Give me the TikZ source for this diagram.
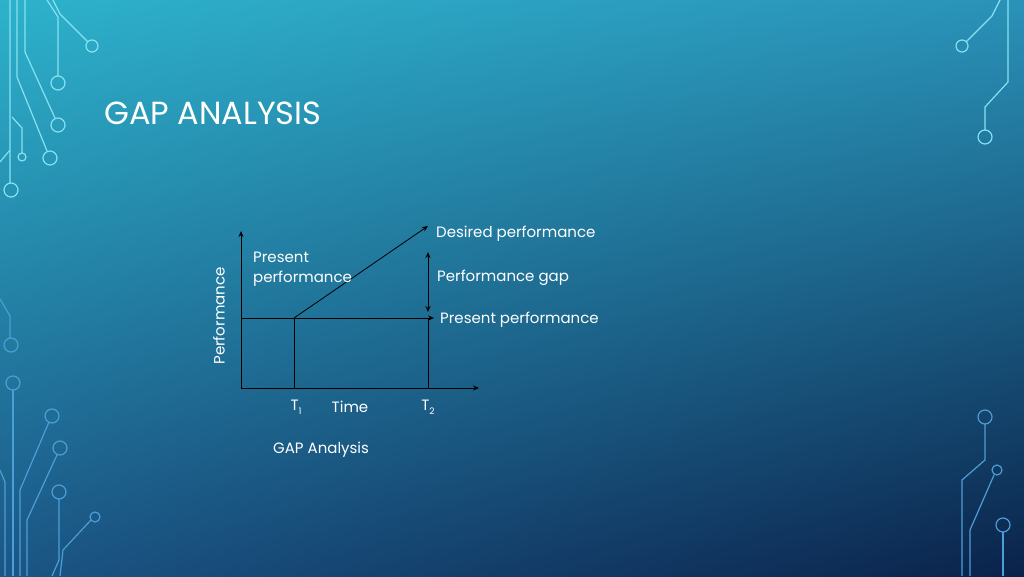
\documentclass[tikz,border=0pt]{standalone}
\usepackage{fontspec}
\setmainfont{Poppins}
\usetikzlibrary{shadings,arrows.meta}
\begin{document}
\begin{tikzpicture}[x=1pt,y=-1pt,
  ckt/.style={draw=cktA,line width=1.2pt},
  cktb/.style={draw=cktB,line width=1.2pt},
  ax/.style={draw=black,line width=0.8pt,-{Stealth[length=6pt,width=5pt]}},
  ln/.style={draw=black,line width=0.8pt},
  lbl/.style={text=white,font=\fontsize{15}{20}\selectfont,inner sep=0pt}]
\definecolor{cktA}{HTML}{86E2F2}
\definecolor{cktB}{HTML}{4C9ED6}
\definecolor{cTL}{HTML}{2DB2CB}
\definecolor{cTR}{HTML}{2A92B8}
\definecolor{cBL}{HTML}{1B5585}
\definecolor{cBR}{HTML}{0A224A}
\useasboundingbox (0,0) rectangle (1024,576);
\shade[upper left=cTL,upper right=cTR,lower left=cBL,lower right=cBR] (0,0) rectangle (1024,576);
% left top circuit
\draw[ckt] (10,0)--(10,183) (11,190) circle (7);
\draw[ckt] (17,0)--(17,77)--(47,151); \draw[ckt] (50,158) circle (7);
\draw[ckt] (25,0)--(25,52)--(55,118); \draw[ckt] (58,125) circle (7);
\draw[ckt] (47,0)--(58,17)--(58,76); \draw[ckt] (58,83) circle (7);
\draw[ckt] (53,0)--(60,14)--(88,42); \draw[ckt] (92,46) circle (6);
\draw[ckt] (12,117)--(22,128)--(22,153); \draw[ckt] (22,157) circle (4);
\draw[ckt] (0,162)--(10,150);
% left bottom circuit
\draw[cktb] (0,299)--(10,316)--(10,338); \draw[cktb] (11,345) circle (7);
\draw[cktb] (13,383) circle (7); \draw[cktb] (13,390)--(13,576);
\draw[cktb] (52,416) circle (7); \draw[cktb] (49,422)--(20,490)--(20,576);
\draw[cktb] (60,448) circle (7); \draw[cktb] (57,455)--(27,520)--(27,576);
\draw[cktb] (59,492) circle (7); \draw[cktb] (59,499)--(59,560)--(52,576);
\draw[cktb] (95,517) circle (5); \draw[cktb] (91,520)--(63,550)--(60,576);
\draw[cktb] (0,470)--(5,482)--(5,576);
% right top circuit
\draw[ckt] (1000,0)--(992,16)--(966,42); \draw[ckt] (962,46) circle (6);
\draw[ckt] (1008,0)--(1008,82)--(985,107)--(985,130); \draw[ckt] (985,137) circle (7);
% right bottom circuit
\draw[cktb] (985,417) circle (7); \draw[cktb] (985,424)--(985,460)--(962,480)--(962,576);
\draw[cktb] (997,470) circle (5); \draw[cktb] (994,475)--(970,530)--(970,576);
\draw[cktb] (1003,525) circle (7); \draw[cktb] (1003,532)--(1003,576);
% title
\node[text=white,anchor=west,inner sep=0pt,font=\fontsize{32}{36}\selectfont] (title) at (104,113) {GAP ANALYSIS};
% chart
\coordinate (O) at (241,388);
\coordinate (Ytop) at (241,231);
\coordinate (Xend) at (479,388);
\coordinate (T1b) at (294,388);
\coordinate (P1) at (294,318);
\coordinate (Pend) at (434,318);
\coordinate (Pl) at (241,318);
\coordinate (Dtop) at (428,226);
\coordinate (G1) at (428,252);
\coordinate (G2) at (428,312);
\coordinate (T2b) at (428,388);
\coordinate (T2t) at (428,318);
\draw[ax] (O)--(Ytop);
\draw[ax] (O)--(Xend);
\draw[ln] (T1b)--(P1);
\draw[ax] (Pl)--(Pend);
\draw[ax] (P1)--(Dtop);
\draw[ln] (T2b)--(T2t);
\draw[draw=black,line width=0.8pt,{Stealth[length=6pt,width=5pt]}-{Stealth[length=6pt,width=5pt]}] (G1)--(G2);
\node[lbl,anchor=west] (desired) at (436,234) {Desired performance};
\node[lbl,anchor=west] (gap) at (437,278) {Performance gap};
\node[lbl,anchor=west] (present) at (440,320) {Present performance};
\node[lbl,anchor=north west,align=left] (presentL) at (253,252) {Present\\performance};
\node[lbl,rotate=90] (yl) at (219,316) {Performance};
\node[lbl] (t1) at (296,407) {T\raisebox{-4pt}{\fontsize{9}{10}\selectfont 1}};
\node[lbl] (time) at (350,407) {Time};
\node[lbl] (t2) at (428,407) {T\raisebox{-4pt}{\fontsize{9}{10}\selectfont 2}};
\node[lbl,anchor=west] (cap) at (273,450) {GAP Analysis};
\end{tikzpicture}
\end{document}
